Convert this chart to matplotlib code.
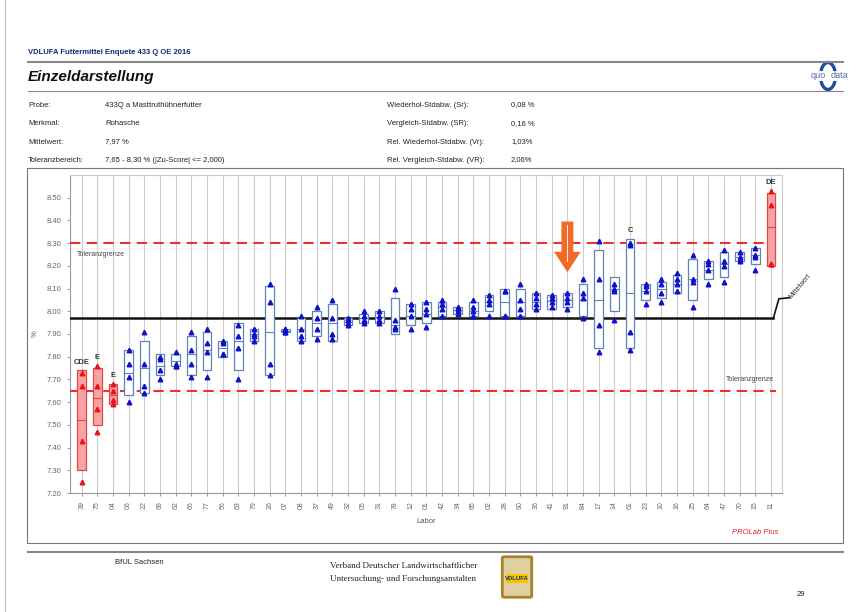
"""
Einzeldarstellung Rohasche (VDLUFA Enquete 433 Q OE 2016)
"""

import matplotlib
matplotlib.use('Agg')
import matplotlib.pyplot as plt
from matplotlib.patches import Rectangle, Polygon, Ellipse, FancyBboxPatch
from matplotlib.lines import Line2D

W, H = 862, 612

labs = ['39', '75', '04', '06', '22', '69', '62', '66', '77', '56', '63', '79',
        '26', '07', '08', '37', '49', '32', '05', '31', '78', '12', '01', '42',
        '34', '65', '02', '28', '90', '36', '41', '91', '84', '17', '14', '61',
        '23', '10', '16', '25', '64', '47', '70', '15', '11']

box_low = [7.30, 7.50, 7.59, 7.63, 7.64, 7.72, 7.76, 7.72, 7.74, 7.80, 7.74, 7.87,
           7.72, 7.91, 7.87, 7.89, 7.87, 7.94, 7.95, 7.95, 7.90, 7.94, 7.95, 7.98,
           7.99, 7.98, 8.00, 7.98, 7.98, 8.01, 8.01, 8.02, 7.98, 7.84, 8.00, 7.84,
           8.05, 8.06, 8.08, 8.05, 8.14, 8.15, 8.22, 8.21, 8.20]
box_high = [7.74, 7.75, 7.68, 7.83, 7.87, 7.81, 7.81, 7.89, 7.91, 7.87, 7.95, 7.92,
            8.11, 7.92, 7.97, 8.00, 8.03, 7.97, 7.99, 8.00, 8.06, 8.03, 8.04, 8.04,
            8.02, 8.04, 8.07, 8.10, 8.10, 8.08, 8.07, 8.08, 8.12, 8.27, 8.15, 8.32,
            8.12, 8.13, 8.16, 8.23, 8.22, 8.26, 8.26, 8.28, 8.52]
box_mid = [7.52, 7.62, 7.63, 7.73, 7.75, 7.76, 7.78, 7.81, 7.83, 7.84, 7.87, 7.90,
           7.91, 7.915, 7.92, 7.95, 7.95, 7.955, 7.97, 7.975, 7.94, 7.98, 7.99, 8.02,
           8.005, 8.00, 8.04, 8.04, 8.04, 8.04, 8.045, 8.05, 8.05, 8.05, 8.10, 8.08,
           8.09, 8.10, 8.12, 8.14, 8.18, 8.21, 8.24, 8.25, 8.37]
values = [
    [7.73, 7.67, 7.43, 7.25], [7.76, 7.67, 7.57, 7.47], [7.68, 7.65, 7.61, 7.59],
    [7.83, 7.77, 7.71, 7.60], [7.91, 7.77, 7.67, 7.64], [7.80, 7.79, 7.74, 7.70],
    [7.82, 7.77, 7.76, 7.76], [7.91, 7.83, 7.77, 7.71], [7.92, 7.86, 7.82, 7.71],
    [7.87, 7.86, 7.81, 7.81], [7.94, 7.89, 7.84, 7.70], [7.92, 7.90, 7.89, 7.87],
    [8.12, 8.04, 7.77, 7.72], [7.92, 7.92, 7.91, 7.91], [7.98, 7.92, 7.89, 7.87],
    [8.02, 7.97, 7.92, 7.88], [8.05, 7.97, 7.90, 7.88], [7.97, 7.96, 7.95, 7.94],
    [8.00, 7.98, 7.96, 7.95], [8.00, 7.98, 7.96, 7.95], [8.10, 7.96, 7.93, 7.92],
    [8.03, 8.01, 7.98, 7.92], [8.04, 8.01, 7.99, 7.93], [8.05, 8.03, 8.01, 7.98],
    [8.02, 8.01, 8.00, 7.99], [8.05, 8.02, 8.00, 7.98], [8.07, 8.05, 8.03, 7.98],
    [8.09, 8.09, 7.98, 7.98], [8.12, 8.05, 8.01, 7.98], [8.08, 8.06, 8.03, 8.01],
    [8.07, 8.06, 8.04, 8.02], [8.08, 8.06, 8.04, 8.01], [8.14, 8.08, 8.06, 7.97],
    [8.31, 8.14, 7.94, 7.82], [8.12, 8.10, 8.09, 7.96], [8.30, 8.29, 7.91, 7.83],
    [8.12, 8.11, 8.09, 8.03], [8.14, 8.12, 8.08, 8.04], [8.17, 8.14, 8.12, 8.09],
    [8.25, 8.14, 8.13, 8.02], [8.22, 8.21, 8.18, 8.12], [8.27, 8.22, 8.20, 8.13],
    [8.26, 8.24, 8.23, 8.22], [8.28, 8.25, 8.24, 8.18], [8.53, 8.47, 8.21, 8.21],
]
red_labs = ['39', '75', '04', '11']
flags = {'39': 'CDE', '75': 'E', '04': 'E', '61': 'C', '11': 'DE'}

mean_value = 7.97
tol_low, tol_high = 7.65, 8.30
y_ticks = [7.20, 7.30, 7.40, 7.50, 7.60, 7.70, 7.80, 7.90, 8.00, 8.10, 8.20,
           8.30, 8.40, 8.50]

header_left = [('Probe:', '433Q a Masttruthühnerfutter'),
               ('Merkmal:', 'Rohasche'),
               ('Mittelwert:', '7,97 %'),
               ('Toleranzbereich:', '7,65 - 8,30 % (|Zu-Score| <= 2,000)')]
header_right = [('Wiederhol-Stdabw. (Sr):', '0,08 %'),
                ('Vergleich-Stdabw. (SR):', '0,16 %'),
                ('Rel. Wiederhol-Stdabw. (Vr):', '1,03%'),
                ('Rel. Vergleich-Stdabw. (VR):', '2,06%')]

plt.rcParams['font.family'] = ['Liberation Sans', 'DejaVu Sans']


def px(x, y):
    # pixel position on the page -> figure fraction
    return x / W, 1 - y / H


def draw_page(fig):
    add = fig.add_artist
    add(Line2D([5 / W, 5 / W], [0, 1], color='#bbbbbb', lw=0.8))
    fig.text(*px(28, 53), 'VDLUFA Futtermittel Enquete 433 Q OE 2016',
             fontsize=5.5, color='#1a237e', fontweight='bold', va='center')
    add(Line2D([28 / W, 843 / W], [1 - 62 / H] * 2, color='#888888', lw=1.5))
    fig.text(*px(28, 77), 'Einzeldarstellung', fontsize=11, fontweight='bold',
             fontstyle='italic', va='center', color='#111111')
    add(Line2D([28 / W, 843 / W], [1 - 91 / H] * 2, color='#888888', lw=0.8))

    # quo data logo
    add(Ellipse(px(828, 76), 15 / W, 27 / H, fill=False, ec='#1f4e9c', lw=2.4,
                transform=fig.transFigure))
    fig.text(*px(826, 76), 'quo', fontsize=6.5, color='#4a6fb0', ha='right', va='center',
             bbox=dict(fc='white', ec='none', pad=0.3))
    fig.text(*px(831, 76), 'data', fontsize=6.5, color='#4a6fb0', ha='left', va='center',
             bbox=dict(fc='white', ec='none', pad=0.3))

    rows_y = [105, 124, 142, 160]
    for (lab, val), y in zip(header_left, rows_y):
        fig.text(*px(28, y), lab, fontsize=5.5, va='center', color='#222222')
        fig.text(*px(105, y), val, fontsize=5.5, va='center', color='#222222')
    for (lab, val), y in zip(header_right, rows_y):
        fig.text(*px(387, y), lab, fontsize=5.5, va='center', color='#222222')
        fig.text(*px(511, y), val, fontsize=5.5, va='center', color='#222222')

    # frame around the chart
    add(Rectangle(px(27, 543), 816 / W, 375 / H, fill=False, ec='#777777', lw=0.8,
                  transform=fig.transFigure))
    fig.text(*px(778, 533), 'PROLab Plus', fontsize=5.5, color='#e02020',
             fontstyle='italic', ha='right', va='center')

    # footer
    add(Line2D([28 / W, 843 / W], [1 - 552 / H] * 2, color='#888888', lw=1.5))
    fig.text(*px(115, 562), 'BfUL Sachsen', fontsize=5.5, va='center', color='#222222')
    fig.text(*px(330, 566), 'Verband Deutscher Landwirtschaftlicher', fontsize=6.5,
             family='Liberation Serif', va='center', color='#222222')
    fig.text(*px(330, 579), 'Untersuchung- und Forschungsanstalten', fontsize=6.5,
             family='Liberation Serif', va='center', color='#222222')
    add(FancyBboxPatch(px(504, 596), 26 / W, 38 / H, boxstyle='round,pad=0.002',
                       fc='#ded0a0', ec='#a8822a', lw=2, transform=fig.transFigure))
    add(Rectangle(px(506, 583), 22 / W, 9 / H, fc='#f5c400', ec='none',
                  transform=fig.transFigure))
    fig.text(*px(517, 578.5), 'VDLUFA', fontsize=4.3, fontweight='bold', color='#1a3060',
             ha='center', va='center')
    fig.text(*px(797, 594), '29', fontsize=5.5, va='center', color='#222222')


def main():
    fig = plt.figure(figsize=(W / 100, H / 100), dpi=100)
    fig.patch.set_facecolor('white')
    draw_page(fig)

    left, right, top, bottom = 70, 782, 175, 493
    ax = fig.add_axes([left / W, 1 - bottom / H, (right - left) / W, (bottom - top) / H])

    n = len(labs)
    xs = list(range(n))
    ax.set_xlim(-0.75, n - 1 + 0.7)
    ax.set_ylim(7.20, 8.60)
    ax.set_xticks(xs)
    ax.set_xticklabels(labs, rotation=90, fontsize=5, color='#666666')
    ax.set_yticks(y_ticks)
    ax.set_yticklabels([f'{v:.2f}' for v in y_ticks], fontsize=5.5, color='#666666')
    ax.set_yticks([7.20 + 0.1 * k for k in range(15)], minor=True)
    ax.tick_params(axis='both', length=2.5, color='#888888', width=0.6)
    ax.tick_params(axis='y', which='minor', length=0)
    ax.grid(True, which='major', axis='x', color='#cccccc', lw=0.8)
    ax.grid(True, which='minor', axis='y', color='#cccccc', lw=0.8)
    ax.set_axisbelow(True)
    for side, sp in ax.spines.items():
        sp.set_color('#999999' if side in ('left', 'bottom') else '#cccccc')
        sp.set_linewidth(0.8)

    ax.set_xlabel('Labor', fontsize=5.5, color='#555555', labelpad=6)
    ax.set_ylabel('%', fontsize=5.5, color='#555555', labelpad=6)

    # mean and tolerance lines
    ax.plot([-0.75, n - 1 + 0.15], [mean_value] * 2, color='#111111', lw=1.8, zorder=3)
    ax.plot([n - 1 + 0.15, n - 1 + 0.5, n - 1 + 1.2],
            [mean_value, mean_value + 0.085, mean_value + 0.09],
            color='#111111', lw=1.2, clip_on=False, zorder=3)
    ax.text(n - 1 + 1.25, mean_value + 0.09, 'Mittelwert', fontsize=5, rotation=50,
            rotation_mode='anchor', ha='left', va='center', color='#333333')
    for tol in (tol_low, tol_high):
        ax.plot([-0.75, n - 1 + 0.3], [tol] * 2, color='#ee3030', lw=1.5,
                dashes=(5, 3), zorder=3)
    ax.text(-0.3, tol_high - 0.05, 'Toleranzgrenze', fontsize=5, color='#444444',
            va='center', ha='left')
    ax.text(n - 1 + 0.2, tol_low + 0.05, 'Toleranzgrenze', fontsize=5, color='#444444',
            va='center', ha='right')

    # boxes and single values
    bw = 0.55
    for i, lab in enumerate(labs):
        red = lab in red_labs
        fc = '#f7a3a3' if red else 'white'
        ec = '#e04848' if red else '#5f84b8'
        mk = '#e8141a' if red else '#1010c8'
        ax.add_patch(Rectangle((i - bw / 2, box_low[i]), bw, box_high[i] - box_low[i],
                               fc=fc, ec=ec, lw=0.9, zorder=4))
        ax.plot([i - bw / 2, i + bw / 2], [box_mid[i]] * 2, color=ec, lw=0.8, zorder=5)
        ax.plot([i] * len(values[i]), values[i], linestyle='none', marker='^',
                ms=3.3, color=mk, zorder=6)
        if lab in flags:
            ax.text(i, max(box_high[i], max(values[i])) + 0.02, flags[lab],
                    fontsize=5.5, fontweight='bold', color='#333333',
                    ha='center', va='bottom', zorder=7)

    # orange marker arrow over lab 91
    k = labs.index('91')
    arrow = [(k - 0.38, 8.395), (k + 0.38, 8.395), (k + 0.38, 8.262), (k + 0.85, 8.262),
             (k, 8.172), (k - 0.85, 8.262), (k - 0.38, 8.262)]
    ax.add_patch(Polygon(arrow, closed=True, fc='#f26a2a', ec='none', zorder=8))
    ax.plot([k, k], [8.38, 8.22], color='white', lw=0.6, zorder=9)

    fig.savefig('out.png', dpi=100)


if __name__ == '__main__':
    main()
